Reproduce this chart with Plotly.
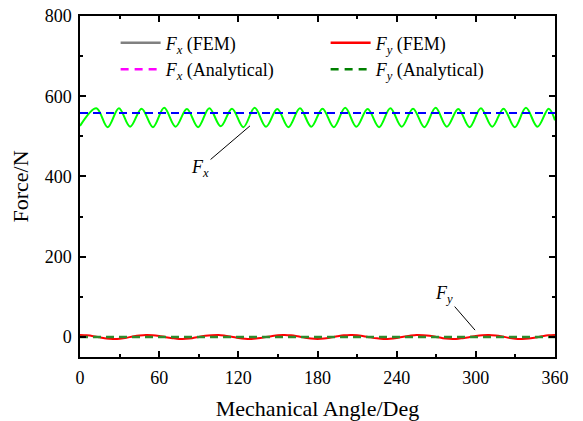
import plotly.graph_objects as go

# ---- data ----
fx_angle = [0, 12.4, 21, 29.5, 38, 46.7, 55.3, 63.8, 72.4, 81, 89.5, 98, 106.7, 115.2,
            123.8, 132.4, 141, 149.5, 158, 166.7, 175.3, 183.8, 192.4, 201, 209.5, 218,
            226.7, 235.2, 243.8, 252.4, 261, 269.5, 278, 286.7, 295.3, 303.8, 312.4, 321,
            329.5, 338, 346.7, 355.2, 360]
fx_fem = [526, 570, 523, 570, 524, 569, 523, 571, 524, 568, 523, 570, 525, 569,
          523, 571, 524, 568, 523, 570, 524, 569, 523, 571, 524, 568,
          523, 570, 524, 569, 523, 571, 524, 568, 523, 570, 524, 569,
          523, 571, 524, 569, 540]

fx_ana_angle = [0, 360]
fx_ana = [558, 558]

fy_angle = [0, 5, 10, 15, 20, 25, 30, 35, 40, 45, 50, 55, 60, 65, 70, 75, 80, 85, 90,
            95, 100, 105, 110, 115, 120, 125, 130, 135, 140, 145, 150, 155, 160, 165,
            170, 175, 180, 185, 190, 195, 200, 205, 210, 215, 220, 225, 230, 235, 240,
            245, 250, 255, 260, 265, 270, 275, 280, 285, 290, 295, 300, 305, 310, 315,
            320, 325, 330, 335, 340, 345, 350, 355, 360]
fy_fem = [5, 4, 2, -1, -4, -5, -4.5, -2, 1, 3.5, 5, 4.5, 2.5, -0.5, -3, -5, -4.5, -3, 0,
          3, 4.5, 5, 3, 0.5, -2.5, -4.5, -5, -3.5, -1, 2, 4.5, 5, 4, 1.5,
          -1.5, -4, -5, -4, -1.5, 1.5, 4, 5, 4.5, 2, -1, -3.5, -5, -4.5, -2.5,
          0.5, 3, 5, 4.5, 3, 0, -3, -4.5, -5, -3, -0.5, 2.5, 4.5, 5, 3.5,
          1, -2, -4.5, -5, -4, -1.5, 1.5, 4, 5]

fy_ana_angle = [0, 360]
fy_ana = [0, 0]

x_ticks = [0, 60, 120, 180, 240, 300, 360]
y_ticks = [0, 200, 400, 600, 800]

FONT = "Liberation Serif"

fig = go.Figure()

# legend entries (as printed in the reference legend)
fig.add_trace(go.Scatter(x=[None], y=[None], mode="lines", name="<i>F<sub>x</sub></i> (FEM)",
                         line=dict(color="#808080", width=2.5)))
fig.add_trace(go.Scatter(x=[None], y=[None], mode="lines", name="<i>F<sub>y</sub></i> (FEM)",
                         line=dict(color="#ff0000", width=2.5)))
fig.add_trace(go.Scatter(x=[None], y=[None], mode="lines", name="<i>F<sub>x</sub></i> (Analytical)",
                         line=dict(color="#ff00ff", width=2.5, dash="8px,6px")))
fig.add_trace(go.Scatter(x=[None], y=[None], mode="lines", name="<i>F<sub>y</sub></i> (Analytical)",
                         line=dict(color="#008000", width=2.5, dash="8px,6px")))

# drawn curves
fig.add_trace(go.Scatter(x=fx_angle, y=fx_fem, mode="lines", showlegend=False,
                         line=dict(color="#00ff00", width=2, shape="spline", smoothing=1.0)))
fig.add_trace(go.Scatter(x=fx_ana_angle, y=fx_ana, mode="lines", showlegend=False,
                         line=dict(color="#0000ff", width=2, dash="8px,5px")))
fig.add_trace(go.Scatter(x=fy_angle, y=fy_fem, mode="lines", showlegend=False,
                         line=dict(color="#ff0000", width=2, shape="spline", smoothing=0.8)))
fig.add_trace(go.Scatter(x=fy_ana_angle, y=fy_ana, mode="lines", showlegend=False,
                         line=dict(color="#2e8b2e", width=2.5, dash="8px,5px")))

fig.add_annotation(x=128.8, y=526, ax=91, ay=420, axref="x", ayref="y",
                   text="<i>F<sub>x</sub></i>", showarrow=True, arrowhead=0,
                   arrowwidth=1, arrowcolor="black", font=dict(family=FONT, size=18, color="black"))
fig.add_annotation(x=299.4, y=17, ax=276, ay=106, axref="x", ayref="y",
                   text="<i>F<sub>y</sub></i>", showarrow=True, arrowhead=0,
                   arrowwidth=1, arrowcolor="black", font=dict(family=FONT, size=18, color="black"))

axis_common = dict(showline=True, linecolor="black", linewidth=1.5, mirror="ticks",
                   ticks="inside", ticklen=6, tickwidth=1.5, tickcolor="black",
                   showgrid=False, zeroline=False, automargin=False,
                   tickfont=dict(family=FONT, size=18, color="black"))

fig.update_xaxes(range=[0, 360], tickvals=x_ticks, ticktext=[str(v) for v in x_ticks],
                 ticklabelstandoff=4,
                 minor=dict(ticks="inside", ticklen=3, tickwidth=1.5, tickcolor="black", dtick=30, tick0=0),
                 title=dict(text="Mechanical Angle/Deg", font=dict(family=FONT, size=22, color="black"),
                            standoff=13),
                 **axis_common)
fig.update_yaxes(range=[-50, 800], tickvals=y_ticks, ticktext=[str(v) for v in y_ticks],
                 ticklabelstandoff=3,
                 minor=dict(ticks="inside", ticklen=3, tickwidth=1.5, tickcolor="black", dtick=100, tick0=0),
                 title=dict(text="Force/N", font=dict(family=FONT, size=22, color="black"),
                            standoff=10),
                 **axis_common)

fig.update_layout(
    width=583, height=421,
    margin=dict(l=80, r=28, t=16, b=64),
    paper_bgcolor="white", plot_bgcolor="white",
    font=dict(family=FONT, size=18, color="black"),
    legend=dict(orientation="h", x=0.075, y=0.975, xanchor="left", yanchor="top",
                entrywidth=155, bgcolor="rgba(0,0,0,0)",
                font=dict(family=FONT, size=18, color="black"),
                itemwidth=40, tracegroupgap=0),
)

fig.write_html("out.html")
